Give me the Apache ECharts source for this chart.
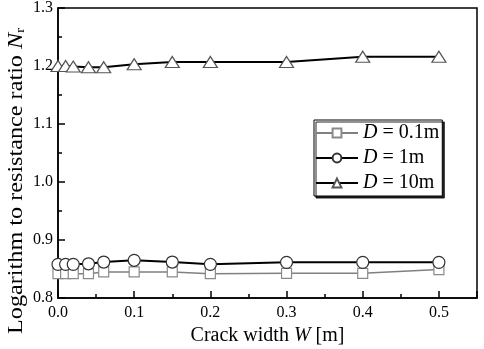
<!DOCTYPE html>
<html>
<head>
<meta charset="utf-8">
<script src="https://cdn.jsdelivr.net/npm/echarts@6/dist/echarts.min.js"></script>
<style>
  html, body { margin: 0; padding: 0; background: #fff; }
  #chart { width: 484px; height: 349px; }
</style>
</head>
<body>
<div id="chart"></div>
<script>
var widths = [0, 0.01, 0.02, 0.04, 0.06, 0.1, 0.15, 0.2, 0.3, 0.4, 0.5];
var nr01 = [0.842, 0.842, 0.842, 0.842, 0.845, 0.845, 0.845, 0.842, 0.8425, 0.8425, 0.849];
var nr1 = [0.858, 0.858, 0.858, 0.859, 0.862, 0.865, 0.862, 0.858, 0.8615, 0.8615, 0.8615];
var nr10 = [1.2, 1.2, 1.199, 1.198, 1.198, 1.203, 1.207, 1.207, 1.207, 1.216, 1.216];
var names = ['D = 0.1m', 'D = 1m', 'D = 10m'];

function pairs(ys) {
    return widths.map(function (w, i) { return [w, ys[i]]; });
}

var font = '"Liberation Serif", "Times New Roman", serif';

var chart = echarts.init(document.getElementById('chart'));

var option = {
    backgroundColor: '#fff',
    textStyle: { fontFamily: font },
    grid: {
        left: 58, right: 7, top: 8, bottom: 51,
        containLabel: false, outerBoundsMode: 'none',
        show: true, borderColor: '#000', borderWidth: 1.5
    },
    // y axis title, stretched a little along its length like the original
    graphic: [{
        type: 'text',
        x: 16, y: 181,
        rotation: Math.PI / 2,
        scaleX: 1.1,
        style: {
            text: '{t|Logarithm to resistance ratio }{i|N}{s|r}',
            align: 'center', verticalAlign: 'middle',
            rich: {
                t: { fontFamily: font, fontSize: 22, fill: '#000' },
                i: { fontFamily: font, fontSize: 22, fontStyle: 'italic', fill: '#000' },
                s: { fontFamily: font, fontSize: 13, fill: '#000', padding: [10, 0, 0, 0] }
            }
        }
    }],
    legend: {
        orient: 'vertical',
        left: 314, top: 120,
        padding: [3, 3, 3, 1],
        itemGap: 5,
        itemWidth: 42, itemHeight: 11,
        backgroundColor: '#fff',
        borderColor: '#000', borderWidth: 1,
        shadowColor: 'rgba(0,0,0,0.85)', shadowOffsetX: 2, shadowOffsetY: 2, shadowBlur: 0,
        data: names,
        formatter: function (n) { return n.replace('D', '{i|D}'); },
        textStyle: {
            fontFamily: font, fontSize: 20, color: '#000',
            rich: {
                t: { fontFamily: font, fontSize: 20, color: '#000' },
                i: { fontFamily: font, fontSize: 20, fontStyle: 'italic', color: '#000' }
            }
        }
    },
    xAxis: {
        type: 'value',
        min: 0, max: 0.55, interval: 0.1,
        name: '{t|Crack width }{i|W}{t| [m]}',
        nameLocation: 'middle', nameGap: 28,
        nameTextStyle: {
            fontFamily: font,
            rich: {
                t: { fontFamily: font, fontSize: 20, color: '#000' },
                i: { fontFamily: font, fontSize: 20, fontStyle: 'italic', color: '#000' }
            }
        },
        axisLine: { lineStyle: { color: '#000', width: 1.5 } },
        axisTick: { inside: true, length: 7, lineStyle: { color: '#000', width: 1.5 } },
        minorTick: { show: true, splitNumber: 2, length: 4, lineStyle: { color: '#000', width: 1.5 } },
        splitLine: { show: false },
        axisLabel: {
            showMaxLabel: false, margin: 7,
            fontFamily: font, fontSize: 16, color: '#000',
            formatter: function (v) { return v.toFixed(1); }
        }
    },
    yAxis: {
        type: 'value',
        min: 0.8, max: 1.3, interval: 0.1,
        axisLine: { lineStyle: { color: '#000', width: 1.5 } },
        axisTick: { inside: true, length: 7, lineStyle: { color: '#000', width: 1.5 } },
        minorTick: { show: true, splitNumber: 2, length: 4, lineStyle: { color: '#000', width: 1.5 } },
        splitLine: { show: false },
        axisLabel: {
            margin: 5,
            fontFamily: font, fontSize: 16, color: '#000',
            formatter: function (v) { return v.toFixed(1); }
        }
    },
    series: [
        {
            name: names[0], type: 'line', data: pairs(nr01),
            symbol: 'rect', symbolSize: 10,
            lineStyle: { color: '#808080', width: 1.5 },
            itemStyle: { color: '#fff', borderColor: '#8a8a8a', borderWidth: 1.2 }
        },
        {
            name: names[1], type: 'line', data: pairs(nr1),
            symbol: 'circle', symbolSize: 12,
            lineStyle: { color: '#000', width: 2 },
            itemStyle: { color: '#fff', borderColor: '#333', borderWidth: 1.2 }
        },
        {
            name: names[2], type: 'line', data: pairs(nr10),
            symbol: 'triangle', symbolSize: [14, 11],
            lineStyle: { color: '#000', width: 2 },
            itemStyle: { color: '#fff', borderColor: '#555', borderWidth: 1.2 }
        }
    ]
};

chart.setOption(option);
</script>
</body>
</html>
